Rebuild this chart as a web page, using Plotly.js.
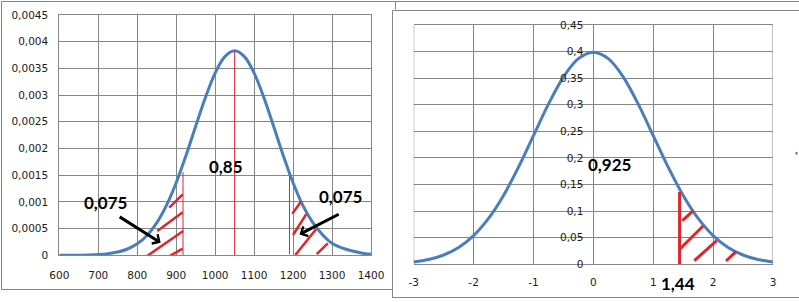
<!DOCTYPE html>
<html>
<head>
<meta charset="utf-8">
<script src="https://cdn.plot.ly/plotly-3.0.1.min.js"></script>
<style>html,body{margin:0;padding:0;background:#fff}#chart{width:799px;height:302px}</style>
</head>
<body>
<div id="chart"></div>
<script>
// ---------- data: left chart (normal curve, mean 1050) ----------
var leftX = [600,625,650,675,700,725,750,775,800,825,850,875,900,925,950,975,1000,1025,1050,1075,1100,1125,1150,1175,1200,1225,1250,1275,1300,1325,1350,1375,1400];
var leftY = [0.0000003,0.0000009,0.0000024,0.0000059,0.0000136,0.0000296,0.0000607,0.000118,0.000215,0.000372,0.000607,0.000935,0.001359,0.001865,0.002416,0.002955,0.003413,0.003720,0.003829,0.003720,0.003413,0.002955,0.002416,0.001865,0.001359,0.000935,0.000620,0.000390,0.000225,0.000140,0.000085,0.000045,0.000018];
var leftXTicks = [600,700,800,900,1000,1100,1200,1300,1400];
var leftXLabels = ["600","700","800","900","1000","1100","1200","1300","1400"];
var leftYTicks = [0,0.0005,0.001,0.0015,0.002,0.0025,0.003,0.0035,0.004,0.0045];
var leftYLabels = ["0","0,0005","0,001","0,0015","0,002","0,0025","0,003","0,0035","0,004","0,0045"];
// red boundary lines (x = 917, 1050, 1191)
var leftCutX = [917.5,917.5,null,1050,1050,null,1190.8,1190.8];
var leftCutY = [0.00156,0,null,0.00383,0,null,0.001485,0.00002];
// hatch strokes
var leftHatchX = [882.3,916.7,null,851.5,916.7,null,820,918,null,884,916.7,null,1197.9,1221,null,1199.8,1233.9,null,1205.7,1258.9,null,1260.6,1289.1];
var leftHatchY = [0.000891,0.001142,null,0.000455,0.000805,null,-0.00004,0.000455,null,-0.00001,0.000124,null,0.000777,0.001013,null,0.00038,0.00077,null,0.0000056,0.000487,null,0.0000206,0.000225];
var leftLabels = ["0,075","0,85","0,075"];

// ---------- data: right chart (standard normal) ----------
var rightX = [-3,-2.75,-2.5,-2.25,-2,-1.75,-1.5,-1.25,-1,-0.75,-0.5,-0.25,0,0.25,0.5,0.75,1,1.25,1.5,1.75,2,2.25,2.5,2.75,3];
var rightY = [0.0044,0.0091,0.0175,0.0317,0.0540,0.0863,0.1295,0.1826,0.2420,0.3011,0.3521,0.3867,0.3989,0.3867,0.3521,0.3011,0.2420,0.1826,0.1295,0.0863,0.0540,0.0317,0.0175,0.0091,0.0044];
var rightXTicks = [-3,-2,-1,0,1,2,3];
var rightXLabels = ["-3","-2","-1","0","1","2","3"];
var rightYTicks = [0,0.05,0.1,0.15,0.2,0.25,0.3,0.35,0.4,0.45];
var rightYLabels = ["0","0,05","0,1","0,15","0,2","0,25","0,3","0,35","0,4","0,45"];
var rightCutX = [1.44,1.44];
var rightCutY = [0.136,-0.01];
var rightHatchX = [1.486,1.669,null,1.447,1.836,null,1.686,2.06,null,2.215,2.382];
var rightHatchY = [0.082,0.1008,null,0.0288,0.0726,null,0.0068,0.0444,null,0.0062,0.0237];
var rightLabels = ["0,925","1,44"];

var BLUE = '#4a7ebb', RED = '#e0242b', GRID = '#868686';

var traces = [
  {x:leftX, y:leftY, xaxis:'x', yaxis:'y', mode:'lines', line:{color:BLUE, width:3, shape:'spline', smoothing:1}, hoverinfo:'skip'},
  {x:leftCutX, y:leftCutY, xaxis:'x', yaxis:'y', mode:'lines', line:{color:RED, width:1}, hoverinfo:'skip'},
  {x:leftHatchX, y:leftHatchY, xaxis:'x', yaxis:'y', mode:'lines', line:{color:RED, width:2.5}, hoverinfo:'skip'},
  {x:rightX, y:rightY, xaxis:'x2', yaxis:'y2', mode:'lines', line:{color:BLUE, width:3, shape:'spline', smoothing:1}, hoverinfo:'skip'},
  {x:rightCutX, y:rightCutY, xaxis:'x2', yaxis:'y2', mode:'lines', line:{color:RED, width:3}, hoverinfo:'skip'},
  {x:rightHatchX, y:rightHatchY, xaxis:'x2', yaxis:'y2', mode:'lines', line:{color:RED, width:3}, hoverinfo:'skip'}
];

function px(v){return v/799;}
function py(v){return 1 - v/302;}
var frame = {type:'line', xref:'paper', yref:'paper', line:{color:GRID, width:1}};
function seg(x0,y0,x1,y1){return Object.assign({}, frame, {x0:px(x0), y0:py(y0), x1:px(x1), y1:py(y1)});}

var shapes = [
  seg(1.5,1.5,799,1.5),
  seg(1.5,1.5,1.5,289.5),
  seg(1.5,289.5,392.5,289.5),
  seg(395.5,1.5,395.5,9.5),
  seg(392.5,10.5,799,10.5),
  seg(392.5,10.5,392.5,298),
  seg(392.5,297.5,799,297.5),
  {type:'line', xref:'x2', yref:'y2 domain', x0:-3, x1:-3, y0:0, y1:1, line:{color:GRID, width:1}},
  {type:'line', xref:'x2', yref:'y2 domain', x0:3, x1:3, y0:0, y1:1, line:{color:GRID, width:1}},
  {type:'rect', xref:'paper', yref:'paper', x0:px(795.5), x1:px(797.5), y0:py(154.5), y1:py(152), fillcolor:BLUE, line:{width:0}}
];

var lblFont = {family:'Lato, "Open Sans", sans-serif', size:17, color:'#000'};
function lbl(o){return Object.assign({showarrow:false, font:lblFont, xanchor:'center', yanchor:'middle'}, o);}
var annotations = [
  lbl({xref:'x', yref:'y', x:718.6, y:0.000989, text:'<b>'+leftLabels[0]+'</b>'}),
  lbl({xref:'x', yref:'y', x:1028.6, y:0.001657, text:'<b>'+leftLabels[1]+'</b>'}),
  lbl({xref:'x', yref:'y', x:1321.2, y:0.001092, text:'<b>'+leftLabels[2]+'</b>'}),
  lbl({xref:'x2', yref:'y2', x:0.267, y:0.1886, text:'<b>'+rightLabels[0]+'</b>'}),
  lbl({xref:'x2', yref:'paper', x:1.419, y:py(283.7), text:'<b>'+rightLabels[1]+'</b>'}),
  {xref:'x', yref:'y', x:860.2, y:0.000236, ax:-44, ay:-27.7, text:' ', showarrow:true, arrowhead:4, arrowsize:0.7, arrowwidth:3, arrowcolor:'#000'},
  {xref:'x', yref:'y', x:1216.5, y:0.00039, ax:42.2, ay:-21.8, text:' ', showarrow:true, arrowhead:4, arrowsize:0.7, arrowwidth:3, arrowcolor:'#000'}
];

var tickFont = {family:'"DejaVu Sans", sans-serif', size:10.5, color:'#1a1a1a'};
var axBase = {showgrid:true, gridcolor:GRID, gridwidth:1, zeroline:false, ticks:'', tickfont:tickFont, tickmode:'array', fixedrange:true};

var layout = {
  width:799, height:302,
  margin:{l:0, r:0, t:0, b:0, pad:0},
  paper_bgcolor:'#ffffff', plot_bgcolor:'rgba(0,0,0,0)',
  showlegend:false,
  xaxis: Object.assign({}, axBase, {domain:[59.3/799, 371/799], range:[600,1400], tickvals:leftXTicks, ticktext:leftXLabels, anchor:'y', showline:true, mirror:true, linecolor:GRID, linewidth:1, ticklabelstandoff:10}),
  yaxis: Object.assign({}, axBase, {domain:[1-255.3/302, 1-15/302], range:[0,0.0045], tickvals:leftYTicks, ticktext:leftYLabels, anchor:'x', showline:true, mirror:true, linecolor:GRID, linewidth:1, ticklabelstandoff:8}),
  xaxis2: Object.assign({}, axBase, {domain:[413.7/799, 773/799], range:[-3,3], tickvals:rightXTicks, ticktext:rightXLabels, anchor:'y2', showline:true, mirror:true, linecolor:GRID, linewidth:1, ticklabelstandoff:8}),
  yaxis2: Object.assign({}, axBase, {domain:[1-264.3/302, 1-25/302], range:[0,0.45], tickvals:rightYTicks, ticktext:rightYLabels, anchor:'free', position:593.35/799, showline:false, ticklabelstandoff:10}),
  shapes:shapes,
  annotations:annotations
};

Plotly.newPlot('chart', traces, layout, {staticPlot:true, displayModeBar:false});
</script>
</body>
</html>
